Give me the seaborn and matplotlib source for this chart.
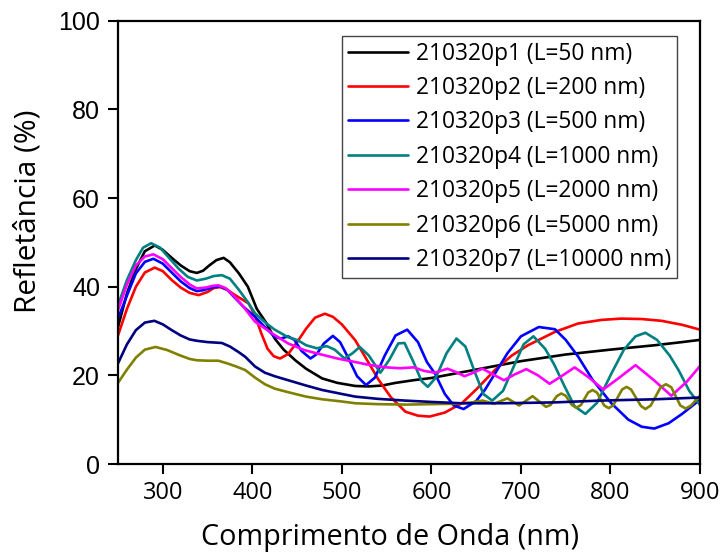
import numpy as np
import pandas as pd
import matplotlib
matplotlib.use("Agg")
import matplotlib.pyplot as plt
import seaborn as sns

labels = ["210320p1 (L=50 nm)", "210320p2 (L=200 nm)", "210320p3 (L=500 nm)",
          "210320p4 (L=1000 nm)", "210320p5 (L=2000 nm)", "210320p6 (L=5000 nm)",
          "210320p7 (L=10000 nm)"]
colors = ["#000000", "#ff0000", "#0000ff", "#008080", "#ff00ff", "#808000", "#000080"]

wl_p1 = [250, 260, 270, 280, 291, 300, 310, 320, 330, 338, 345, 352, 360, 368, 375, 385, 395,
         405, 415, 425, 435, 448, 460, 478, 495, 515, 530, 545, 560, 580, 600, 650, 700, 750,
         800, 850, 880, 900]
r_p1 = [30.9, 38.5, 44.0, 48.0, 49.3, 48.3, 46.5, 44.8, 43.5, 43.1, 43.6, 44.8, 46.0, 46.5, 45.5,
        43.0, 40.0, 35.0, 32.0, 28.3, 25.8, 23.4, 21.5, 19.3, 18.3, 17.6, 17.5, 17.7, 18.3, 18.9,
        19.4, 21.3, 23.2, 24.7, 25.8, 26.8, 27.5, 28.0]

wl_p2 = [250, 260, 270, 280, 291, 300, 310, 320, 330, 340, 350, 357, 364, 372, 380, 388, 396,
         403, 410, 417, 424, 431, 440, 450, 460, 470, 481, 490, 500, 515, 528, 541, 555, 571,
         585, 598, 615, 634, 650, 671, 690, 708, 738, 764, 790, 812, 835, 857, 880, 900]
r_p2 = [29.0, 35.0, 40.0, 43.2, 44.3, 43.5, 41.5, 39.8, 38.6, 38.1, 38.8, 39.7, 39.9, 39.3, 38.2,
        37.2, 36.2, 33.5, 29.5, 26.0, 24.3, 23.8, 24.8, 27.5, 30.5, 33.0, 33.9, 33.2, 31.5, 27.9,
        23.5, 19.0, 15.0, 11.8, 10.9, 10.7, 11.6, 13.7, 16.8, 21.2, 24.5, 26.8, 29.8, 31.7, 32.5,
        32.8, 32.7, 32.3, 31.4, 30.3]

wl_p3 = [250, 260, 270, 280, 289.5, 300, 310, 320, 330, 338, 345, 355, 364, 372, 380, 390, 403,
         414, 425, 432, 440, 447, 455, 465, 472, 480, 490, 498, 507, 517, 527, 537, 548, 560,
         573, 585, 595, 604, 615, 625, 636, 650, 660, 671, 685, 700, 720, 738, 750, 764, 780,
         801, 820, 835, 849, 865, 880, 900]
r_p3 = [32.8, 38.0, 43.0, 45.6, 46.3, 45.2, 43.2, 41.2, 39.7, 39.0, 39.2, 39.8, 40.1, 39.3, 37.6,
        35.5, 33.2, 30.9, 28.7, 28.3, 28.8, 28.0, 25.5, 23.8, 24.8, 27.2, 28.9, 27.5, 24.0, 19.8,
        17.8, 19.5, 24.5, 29.0, 30.3, 27.5, 23.0, 20.4, 15.8, 13.2, 12.4, 14.2, 16.8, 20.4, 25.0,
        28.8, 30.9, 30.4, 28.0, 24.2, 19.0, 13.7, 10.0, 8.4, 8.0, 9.2, 11.3, 14.5]

wl_p4 = [250, 260, 270, 278, 287, 297, 307, 318, 328, 338, 348, 357, 366, 375, 385, 395, 403,
         414, 425, 440, 451, 460, 472, 483, 492, 503, 512, 520, 530, 543, 553, 563, 570, 580,
         589, 596, 605, 617, 628, 638, 648, 658, 668, 680, 692, 703, 714, 727, 737, 749, 760,
         772, 785, 801, 815, 828, 839, 852, 866, 876, 888, 900]
r_p4 = [35.8, 41.5, 46.0, 48.8, 49.8, 48.8, 46.5, 44.0, 42.2, 41.4, 41.8, 42.4, 42.6, 41.8, 39.3,
        36.5, 34.0, 32.0, 30.3, 28.6, 27.9, 26.8, 26.1, 26.6, 25.8, 23.8, 25.0, 26.4, 24.5, 20.6,
        23.5, 27.2, 27.3, 23.0, 18.7, 17.4, 19.5, 25.0, 28.3, 26.5, 21.0, 15.8, 14.3, 16.5, 22.0,
        27.0, 28.8, 26.0, 22.5, 17.4, 13.0, 11.3, 13.8, 20.4, 25.8, 28.8, 29.6, 28.0, 24.5, 21.2,
        16.5, 13.3]

wl_p5 = [250, 260, 270, 280, 289.5, 300, 310, 320, 330, 338, 348, 356, 362, 370, 380, 390, 403,
         414, 425, 440, 458, 475, 495, 515, 532, 550, 565, 580, 592, 604, 618, 628, 637, 647,
         657, 669, 681, 693, 706, 719, 732, 746, 760, 776, 792, 810, 828, 848, 868, 885, 900]
r_p5 = [34.7, 40.5, 44.8, 46.8, 47.3, 46.2, 44.2, 42.2, 40.5, 39.6, 39.8, 40.2, 40.3, 39.7, 37.8,
        35.5, 32.1, 30.6, 29.1, 27.2, 25.7, 24.8, 23.8, 23.0, 22.3, 21.8, 21.6, 21.8, 21.0, 20.6,
        21.5, 20.7, 19.8, 20.6, 21.5, 20.2, 18.9, 20.2, 21.4, 20.0, 18.1, 19.9, 21.8, 19.5, 16.8,
        19.5, 22.3, 19.0, 15.4, 18.5, 22.1]

wl_p6 = [250, 260, 270, 280, 292, 305, 318, 330, 338, 350, 362, 372, 382, 392, 403, 414, 425,
         440, 460, 478, 500, 515, 540, 571, 600, 630, 645, 657, 670, 685, 698, 713, 728, 733,
         740, 745, 750, 757, 762, 767, 775, 780, 785, 793, 798, 803, 813, 818, 823, 834, 839,
         845, 856, 862, 868, 878, 884, 890, 900]
r_p6 = [18.3, 21.3, 24.0, 25.8, 26.4, 25.7, 24.6, 23.7, 23.4, 23.3, 23.3, 22.7, 22.0, 21.2, 19.5,
        18.0, 17.0, 16.2, 15.2, 14.6, 14.1, 13.7, 13.5, 13.4, 13.5, 13.6, 13.9, 14.3, 13.6, 14.8,
        13.2, 15.3, 12.9, 13.3, 15.3, 15.9, 15.4, 13.3, 12.7, 13.3, 16.1, 16.7, 16.1, 13.2, 12.6,
        13.2, 16.8, 17.4, 16.8, 13.1, 12.4, 13.2, 17.3, 18.0, 17.3, 13.2, 12.5, 13.2, 15.4]

wl_p7 = [250, 260, 270, 280, 290.6, 300, 310, 320, 330, 338, 350, 366, 375, 385, 392, 403, 414,
         425, 440, 460, 478, 500, 515, 540, 571, 600, 634, 680, 738, 788, 850, 900]
r_p7 = [22.7, 27.0, 30.2, 31.9, 32.3, 31.5, 30.2, 29.0, 28.1, 27.8, 27.5, 27.3, 26.5, 25.2, 24.2,
        22.0, 20.6, 19.8, 18.9, 17.7, 16.7, 15.8, 15.2, 14.7, 14.3, 14.0, 13.7, 13.7, 13.9, 14.3,
        14.6, 15.0]

xticks = [300, 400, 500, 600, 700, 800, 900]
yticks = [0, 20, 40, 60, 80, 100]

series = [(wl_p1, r_p1), (wl_p2, r_p2), (wl_p3, r_p3), (wl_p4, r_p4),
          (wl_p5, r_p5), (wl_p6, r_p6), (wl_p7, r_p7)]
frames = []
for lab, (w, r) in zip(labels, series):
    frames.append(pd.DataFrame({"wl": w, "R": r, "amostra": lab}))
df = pd.concat(frames, ignore_index=True)

sns.set_theme(style="ticks")
plt.rcParams["font.family"] = ["Open Sans", "DejaVu Sans"]
plt.rcParams["text.color"] = "black"
plt.rcParams["axes.labelcolor"] = "black"
plt.rcParams["xtick.color"] = "black"
plt.rcParams["ytick.color"] = "black"
plt.rcParams["lines.solid_joinstyle"] = "round"
plt.rcParams["lines.solid_capstyle"] = "round"

fig = plt.figure(figsize=(7.25, 5.58), dpi=100)
ax = fig.add_axes([118 / 725, 1 - 464 / 558, 582 / 725, 443.3 / 558])

sns.lineplot(data=df, x="wl", y="R", hue="amostra", hue_order=labels,
             palette=dict(zip(labels, colors)), estimator=None, sort=False,
             linewidth=1.9, ax=ax)

ax.set_xlim(250, 900)
ax.set_ylim(0, 100)
ax.set_xticks(xticks)
ax.set_yticks(yticks)
ax.set_xticklabels([str(v) for v in xticks], fontsize=17, family="Open Sans", color="black")
ax.set_yticklabels([str(v) for v in yticks], fontsize=18, family="Liberation Sans", color="black")
ax.tick_params(axis="both", direction="out", length=7, width=1.5, color="black")
ax.tick_params(axis="y", pad=6)
ax.tick_params(axis="x", pad=5)
for s in ax.spines.values():
    s.set_visible(True)
    s.set_linewidth(1.6)
    s.set_color("black")

ax.set_xlabel("Comprimento de Onda (nm)", fontsize=20.7, color="black")
ax.xaxis.set_label_coords(0.467, -0.132)
ax.set_ylabel("Refletância (%)", fontsize=21.5, color="black")
ax.yaxis.set_label_coords(-0.13, 0.571)

handles, labs = ax.get_legend_handles_labels()
leg = ax.legend(handles, labs, loc="upper right", bbox_to_anchor=(0.9605, 0.9655),
                fontsize=16.4, frameon=True, fancybox=False, framealpha=1,
                edgecolor="#444444", handlelength=2.63, handletextpad=0.35,
                labelspacing=0.456, borderpad=0.25, borderaxespad=0)
leg.get_frame().set_linewidth(1.0)
for line in leg.get_lines():
    line.set_linewidth(1.9)
for t in leg.get_texts():
    t.set_color("black")

fig.savefig("out.png", dpi=100)
